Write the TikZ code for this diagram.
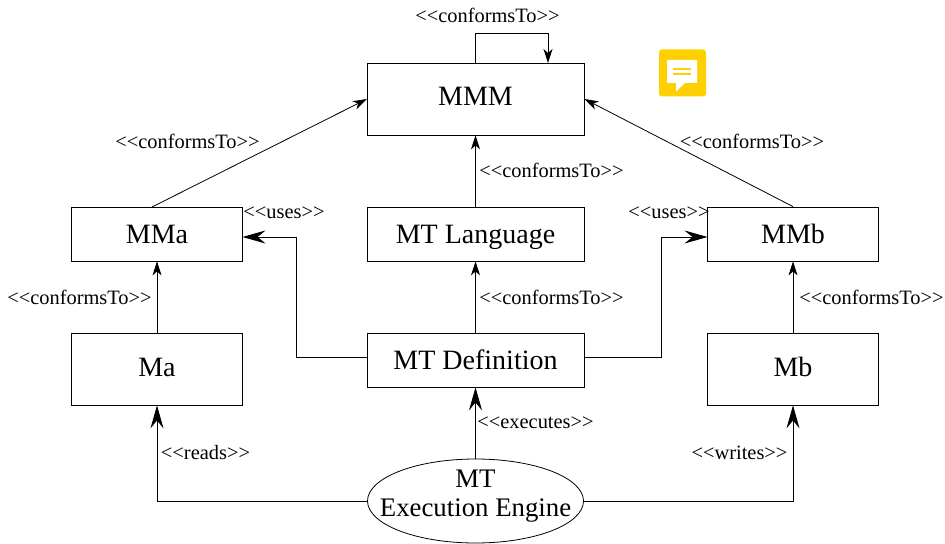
\documentclass[tikz,border=0pt]{standalone}
\usepackage{fontspec}
\setmainfont{Liberation Serif}
\usepackage{tikz}
\usetikzlibrary{arrows.meta,shapes.geometric}
\definecolor{notecolor}{RGB}{255,208,0}
\newcommand{\rel}[1]{<{}<#1>{}>}
\tikzset{
    model/.style={draw, rectangle, inner sep=0pt, text height=9.2pt, text depth=0pt, font=\fontsize{14}{15}\selectfont},
    engine/.style={draw, ellipse, inner xsep=-14pt, inner ysep=-2pt, text depth=8pt, align=center, minimum width=108pt, minimum height=42pt, font=\fontsize{13.4}{14.5}\selectfont},
    rel/.style={font=\fontsize{10.2}{11}\selectfont, inner sep=0pt},
    conf/.style={draw, -{Stealth[length=7pt,width=4.5pt,inset=2pt]}},
    big/.style={draw, -{Stealth[length=11.5pt,width=6.5pt,inset=4pt]}}
}
\begin{document}
\begin{tikzpicture}[x=0.5pt, y=-0.5pt, line width=0.4pt]
                \useasboundingbox (0,0) rectangle (945,544);
                \node [model, text depth=3pt, minimum width=108.5pt, minimum height=36pt] (mmm) at (475.5,99) {MMM};
                \node [model, minimum width=108.5pt, minimum height=27pt] (language) at (475.5,234) {MT Language};
                \node [model, minimum width=108.5pt, minimum height=27pt] (definition) at (475.5,360) {MT Definition};
                \node [model, minimum width=85.5pt, minimum height=27pt] (mma) at (157,234) {MMa};
                \node [model, text depth=2pt, minimum width=85.5pt, minimum height=36pt] (ma) at (157,369) {Ma};
                \node [model, minimum width=85.5pt, minimum height=27pt] (mmb) at (793,234) {MMb};
                \node [model, text depth=2pt, minimum width=85.5pt, minimum height=36pt] (mb) at (793,369) {Mb};
                \node [engine] (exec) at (475.5,501) {MT\\Execution Engine};
                % free ends
                \coordinate (loopin) at (548,63);
                \coordinate (mmaout) at (152,207);
                \coordinate (defleft) at (367,357);
                \coordinate (defright) at (584,357);
                \coordinate (mmain) at (242.5,237);
                \coordinate (mmbin) at (707.5,237);
                % labels
                \node [rel] (l1) at (487.5,15) {\rel{conformsTo}};
                \node [rel] (l2) at (187.5,141) {\rel{conformsTo}};
                \node [rel] (l3) at (752,141) {\rel{conformsTo}};
                \node [rel] (l4) at (551.5,170) {\rel{conformsTo}};
                \node [rel] (l5) at (551.5,297) {\rel{conformsTo}};
                \node [rel] (l6) at (79.5,297) {\rel{conformsTo}};
                \node [rel] (l7) at (871.5,297) {\rel{conformsTo}};
                \node [rel] (l8) at (284,213) {\rel{uses}};
                \node [rel] (l9) at (669,213) {\rel{uses}};
                \node [rel] (l10) at (535.5,423) {\rel{executes}};
                \node [rel] (l11) at (205.5,453) {\rel{reads}};
                \node [rel] (l12) at (739.5,453) {\rel{writes}};
                % connectors
                \draw [conf] (mmm.north) |- (548,33) -- (loopin);
                \draw [conf] (mmaout) -- (367,99);
                \draw [conf] (mmb.north) -- (mmm.east);
                \draw [conf] (language) -- (mmm);
                \draw [conf] (definition) -- (language);
                \draw [conf] (ma) -- (mma);
                \draw [conf] (mb) -- (mmb);
                \draw [big] (defleft) -| (296,237) -- (mmain);
                \draw [big] (defright) -| (661,237) -- (mmbin);
                \draw [big] (exec) -- (definition);
                \draw [big] (exec) -| (ma);
                \draw [big] (exec) -| (mb);
                % note icon
                \fill [notecolor, rounded corners=1.5pt] (659,49.5) rectangle (706,96.5);
                \fill [white] (667,60) -- (697,60) -- (697,83) -- (685,83) -- (676,91.5) -- (676,83) -- (667,83) -- cycle;
                \fill [notecolor] (673,68) rectangle (691,70);
                \fill [notecolor] (673,73) rectangle (691,75);
            \end{tikzpicture}
\end{document}
